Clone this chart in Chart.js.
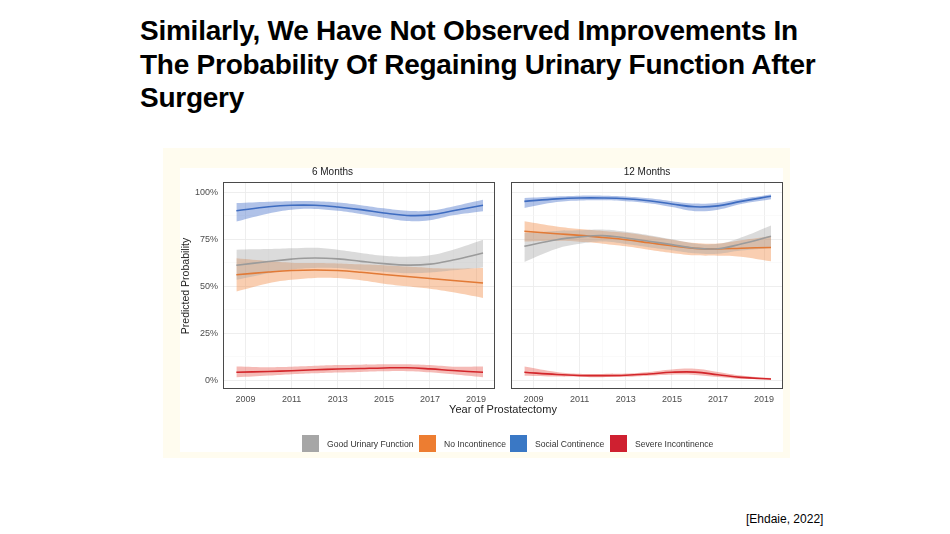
<!DOCTYPE html>
<html>
<head>
<meta charset="utf-8">
<script src="https://cdn.jsdelivr.net/npm/chart.js@4.4.1/dist/chart.umd.min.js"></script>
<style>
  html, body { margin: 0; padding: 0; background: #fff; }
  body { width: 950px; height: 534px; position: relative; overflow: hidden; font-family: "Liberation Sans", Arial, sans-serif; }
  .title { position: absolute; left: 140px; top: 14px; font-weight: bold; font-size: 28px; line-height: 33.5px; color: #000; letter-spacing: -0.25px; white-space: nowrap; }
  .cite { position: absolute; left: 746px; top: 512px; font-size: 12px; color: #000; }
  .fig { position: absolute; left: 163px; top: 148px; width: 627px; height: 310px; background: #fffcef; }
  .inner { position: absolute; left: 180px; top: 168px; width: 603px; height: 284px; background: #fff; }
  canvas { position: absolute; }
  .xt { position: absolute; left: 403px; width: 200px; top: 403px; text-align: center; font-size: 11px; color: #222; }
  .yt { position: absolute; left: 135px; top: 280px; width: 100px; text-align: center; font-size: 10.5px; color: #222; transform: rotate(-90deg); }
  .leg { position: absolute; top: 435px; font-size: 8.6px; color: #333; }
  .leg i { position: absolute; top: 0; width: 17px; height: 17px; }
  .leg span { position: absolute; top: 4px; white-space: nowrap; }
</style>
</head>
<body>
<div class="title">Similarly, We Have Not Observed Improvements In<br>The Probability Of Regaining Urinary Function After<br>Surgery</div>
<div class="fig"></div>
<div class="inner"></div>
<canvas id="six" width="330" height="245" style="left:170px;top:164px;width:330px;height:245px"></canvas>
<canvas id="twelve" width="283" height="245" style="left:505px;top:164px;width:283px;height:245px"></canvas>
<div class="yt">Predicted Probability</div>
<div class="xt">Year of Prostatectomy</div>
<div id="legend"></div>
<div class="cite">[Ehdaie, 2022]</div>

<script>
// x positions of the smoothed fits (year of surgery)
const YEARS = [2008.6, 2010, 2011, 2012, 2013, 2014, 2015, 2016, 2017, 2018, 2019.3];
const YEAR_TICKS = [2009, 2010, 2011, 2012, 2013, 2014, 2015, 2016, 2017, 2018, 2019];
const PCT_TICKS = [0, 12.5, 25, 37.5, 50, 62.5, 75, 87.5, 100];
const PANELS = ['6 Months', '12 Months'];
const SERIES = ['Good Urinary Function', 'No Incontinence', 'Social Continence', 'Severe Incontinence'];

// 6 months
const SIX_GOOD    = [61.2, 63.2, 64.5, 65.1, 64.6, 63.3, 62.1, 61.3, 61.8, 64.0, 67.7];
const SIX_GOOD_HI = [69.5, 69.8, 70.2, 70.5, 69.5, 67.8, 66.3, 65.8, 66.5, 69.5, 74.8];
const SIX_GOOD_LO = [53.5, 57.0, 59.0, 59.8, 59.7, 58.6, 57.8, 57.0, 57.3, 58.5, 60.0];
const SIX_NOINC    = [56.2, 57.6, 58.4, 58.7, 58.4, 57.5, 56.3, 55.2, 54.2, 53.1, 51.8];
const SIX_NOINC_HI = [65.0, 63.5, 62.6, 62.4, 62.2, 61.7, 61.2, 60.5, 59.8, 59.5, 59.8];
const SIX_NOINC_LO = [47.3, 51.7, 53.5, 54.5, 54.4, 53.2, 51.4, 50.0, 48.7, 46.8, 43.8];
const SIX_SOCIAL    = [90.2, 92.3, 93.1, 93.1, 92.2, 90.8, 89.0, 87.7, 88.0, 90.2, 93.1];
const SIX_SOCIAL_HI = [94.3, 95.0, 95.3, 95.3, 94.6, 93.2, 91.5, 90.2, 90.3, 92.5, 96.0];
const SIX_SOCIAL_LO = [84.5, 88.8, 90.8, 91.2, 90.2, 88.5, 86.5, 84.8, 85.2, 87.8, 90.0];
const SIX_SEVERE    = [4.3, 4.7, 5.1, 5.6, 6.0, 6.3, 6.6, 6.7, 6.1, 5.2, 4.3];
const SIX_SEVERE_HI = [7.4, 7.0, 7.2, 7.7, 8.1, 8.3, 8.5, 8.6, 8.1, 7.3, 7.4];
const SIX_SEVERE_LO = [1.6, 2.6, 3.3, 3.8, 4.2, 4.5, 4.8, 4.9, 4.3, 3.2, 1.6];

// 12 months
const TWELVE_GOOD    = [71.3, 74.8, 76.3, 77.0, 75.7, 74.0, 72.2, 70.3, 70.0, 72.5, 76.6];
const TWELVE_GOOD_HI = [78.4, 79.5, 79.8, 80.2, 79.0, 77.2, 75.0, 72.8, 72.6, 76.0, 82.4];
const TWELVE_GOOD_LO = [63.0, 70.0, 72.6, 73.8, 72.5, 70.8, 69.2, 67.6, 67.3, 69.0, 70.4];
const TWELVE_NOINC    = [79.3, 78.0, 77.1, 76.0, 74.8, 73.2, 71.6, 70.2, 69.9, 70.3, 70.7];
const TWELVE_NOINC_HI = [84.6, 81.8, 80.5, 79.5, 78.5, 76.8, 74.8, 73.0, 72.8, 74.5, 76.6];
const TWELVE_NOINC_LO = [73.8, 74.2, 73.7, 72.7, 71.3, 69.5, 67.8, 66.5, 66.3, 65.8, 63.3];
const TWELVE_SOCIAL    = [95.2, 96.5, 97.0, 97.0, 96.6, 95.5, 93.8, 92.3, 92.8, 95.2, 97.9];
const TWELVE_SOCIAL_HI = [97.0, 97.8, 98.2, 98.2, 97.8, 96.8, 95.3, 94.0, 94.5, 96.5, 98.8];
const TWELVE_SOCIAL_LO = [91.7, 94.8, 95.7, 95.8, 95.3, 94.2, 92.2, 90.0, 90.8, 93.8, 96.3];
const TWELVE_SEVERE    = [4.3, 3.1, 2.6, 2.5, 2.7, 3.4, 4.3, 4.4, 3.0, 1.6, 0.7];
const TWELVE_SEVERE_HI = [7.4, 4.5, 3.5, 3.4, 3.6, 4.5, 5.8, 6.2, 4.5, 2.6, 1.2];
const TWELVE_SEVERE_LO = [2.5, 2.0, 1.8, 1.7, 1.9, 2.5, 3.0, 2.9, 1.8, 0.8, 0.3];

const LINE = ['#9b9b9b', '#e27a36', '#3e6cc0', '#d3262b'];
const BAND = ['rgba(160,160,160,0.38)', 'rgba(240,138,68,0.42)', 'rgba(66,110,200,0.42)', 'rgba(232,90,80,0.42)'];
const KEY  = ['#a6a6a6', '#ed7d31', '#3a78c5', '#cf2030'];

const pts = arr => YEARS.map((x, i) => ({ x, y: arr[i] }));

function buildSets(groups) {
  const sets = [];
  groups.forEach((g, k) => {
    const base = { pointRadius: 0, tension: 0.4, borderWidth: 0, order: 1 };
    sets.push(Object.assign({}, base, { label: SERIES[k] + ' hi', data: pts(g[1]), fill: '+1', backgroundColor: BAND[k] }));
    sets.push(Object.assign({}, base, { label: SERIES[k] + ' lo', data: pts(g[2]), fill: false }));
  });
  groups.forEach((g, k) => {
    sets.push({ label: SERIES[k], data: pts(g[0]), borderColor: LINE[k], borderWidth: 1.6,
      pointRadius: 0, tension: 0.4, fill: false, order: 0 });
  });
  return sets;
}

// panel frame like ggplot's theme_bw
const frame = {
  id: 'frame',
  afterDraw(chart) {
    const a = chart.chartArea, ctx = chart.ctx;
    ctx.save();
    ctx.strokeStyle = '#4a4a4a';
    ctx.lineWidth = 1;
    ctx.strokeRect(a.left + 0.5, a.top + 0.5, a.right - a.left - 1, a.bottom - a.top - 1);
    ctx.restore();
  }
};

function makePanel(id, title, groups, showY) {
  const tickFont = { family: 'Liberation Sans', size: 9 };
  return new Chart(document.getElementById(id), {
    type: 'line',
    data: { datasets: buildSets(groups) },
    plugins: [frame],
    options: {
      responsive: false,
      animation: false,
      events: [],
      layout: { padding: { left: showY ? 0 : 6, right: 5, top: 0, bottom: 0 } },
      plugins: {
        legend: { display: false },
        tooltip: { enabled: false },
        title: { display: true, text: title, color: '#1a1a1a',
          font: { family: 'Liberation Sans', size: 10, weight: 'normal' }, padding: { top: 2, bottom: 4 } }
      },
      scales: {
        x: {
          type: 'linear', min: 2008.02, max: 2019.82,
          afterBuildTicks: s => { s.ticks = YEAR_TICKS.map(v => ({ value: v })); },
          afterFit: s => { s.height = 20; },
          border: { display: false },
          grid: { drawTicks: false, color: c => c.tick && c.tick.value % 2 ? '#ececec' : '#f6f6f6',
            lineWidth: c => c.tick && c.tick.value % 2 ? 0.9 : 0.6 },
          ticks: { padding: 5, color: '#4d4d4d', font: tickFont, maxRotation: 0, autoSkip: false,
            callback: v => v % 2 ? String(v) : '' }
        },
        y: {
          min: -4.6, max: 105.5,
          afterBuildTicks: s => { s.ticks = PCT_TICKS.map(v => ({ value: v })); },
          afterFit: s => { s.width = showY ? 53 : 0; },
          border: { display: false },
          grid: { drawTicks: false, color: c => c.tick && c.tick.value % 25 === 0 ? '#ececec' : '#f6f6f6',
            lineWidth: c => c.tick && c.tick.value % 25 === 0 ? 0.9 : 0.6 },
          ticks: { display: showY, padding: 5, color: '#4d4d4d', font: tickFont,
            callback: v => v % 25 === 0 ? v + '%' : '' }
        }
      }
    }
  });
}

makePanel('six', PANELS[0], [
  [SIX_GOOD, SIX_GOOD_HI, SIX_GOOD_LO],
  [SIX_NOINC, SIX_NOINC_HI, SIX_NOINC_LO],
  [SIX_SOCIAL, SIX_SOCIAL_HI, SIX_SOCIAL_LO],
  [SIX_SEVERE, SIX_SEVERE_HI, SIX_SEVERE_LO]
], true);

makePanel('twelve', PANELS[1], [
  [TWELVE_GOOD, TWELVE_GOOD_HI, TWELVE_GOOD_LO],
  [TWELVE_NOINC, TWELVE_NOINC_HI, TWELVE_NOINC_LO],
  [TWELVE_SOCIAL, TWELVE_SOCIAL_HI, TWELVE_SOCIAL_LO],
  [TWELVE_SEVERE, TWELVE_SEVERE_HI, TWELVE_SEVERE_LO]
], false);

// legend row under the panels
const KEY_X = [302, 419, 510, 610];
document.getElementById('legend').innerHTML = SERIES.map((s, k) =>
  `<div class="leg" style="left:${KEY_X[k]}px"><i style="background:${KEY[k]}"></i><span style="left:25px">${s}</span></div>`
).join('');
</script>
</body>
</html>
